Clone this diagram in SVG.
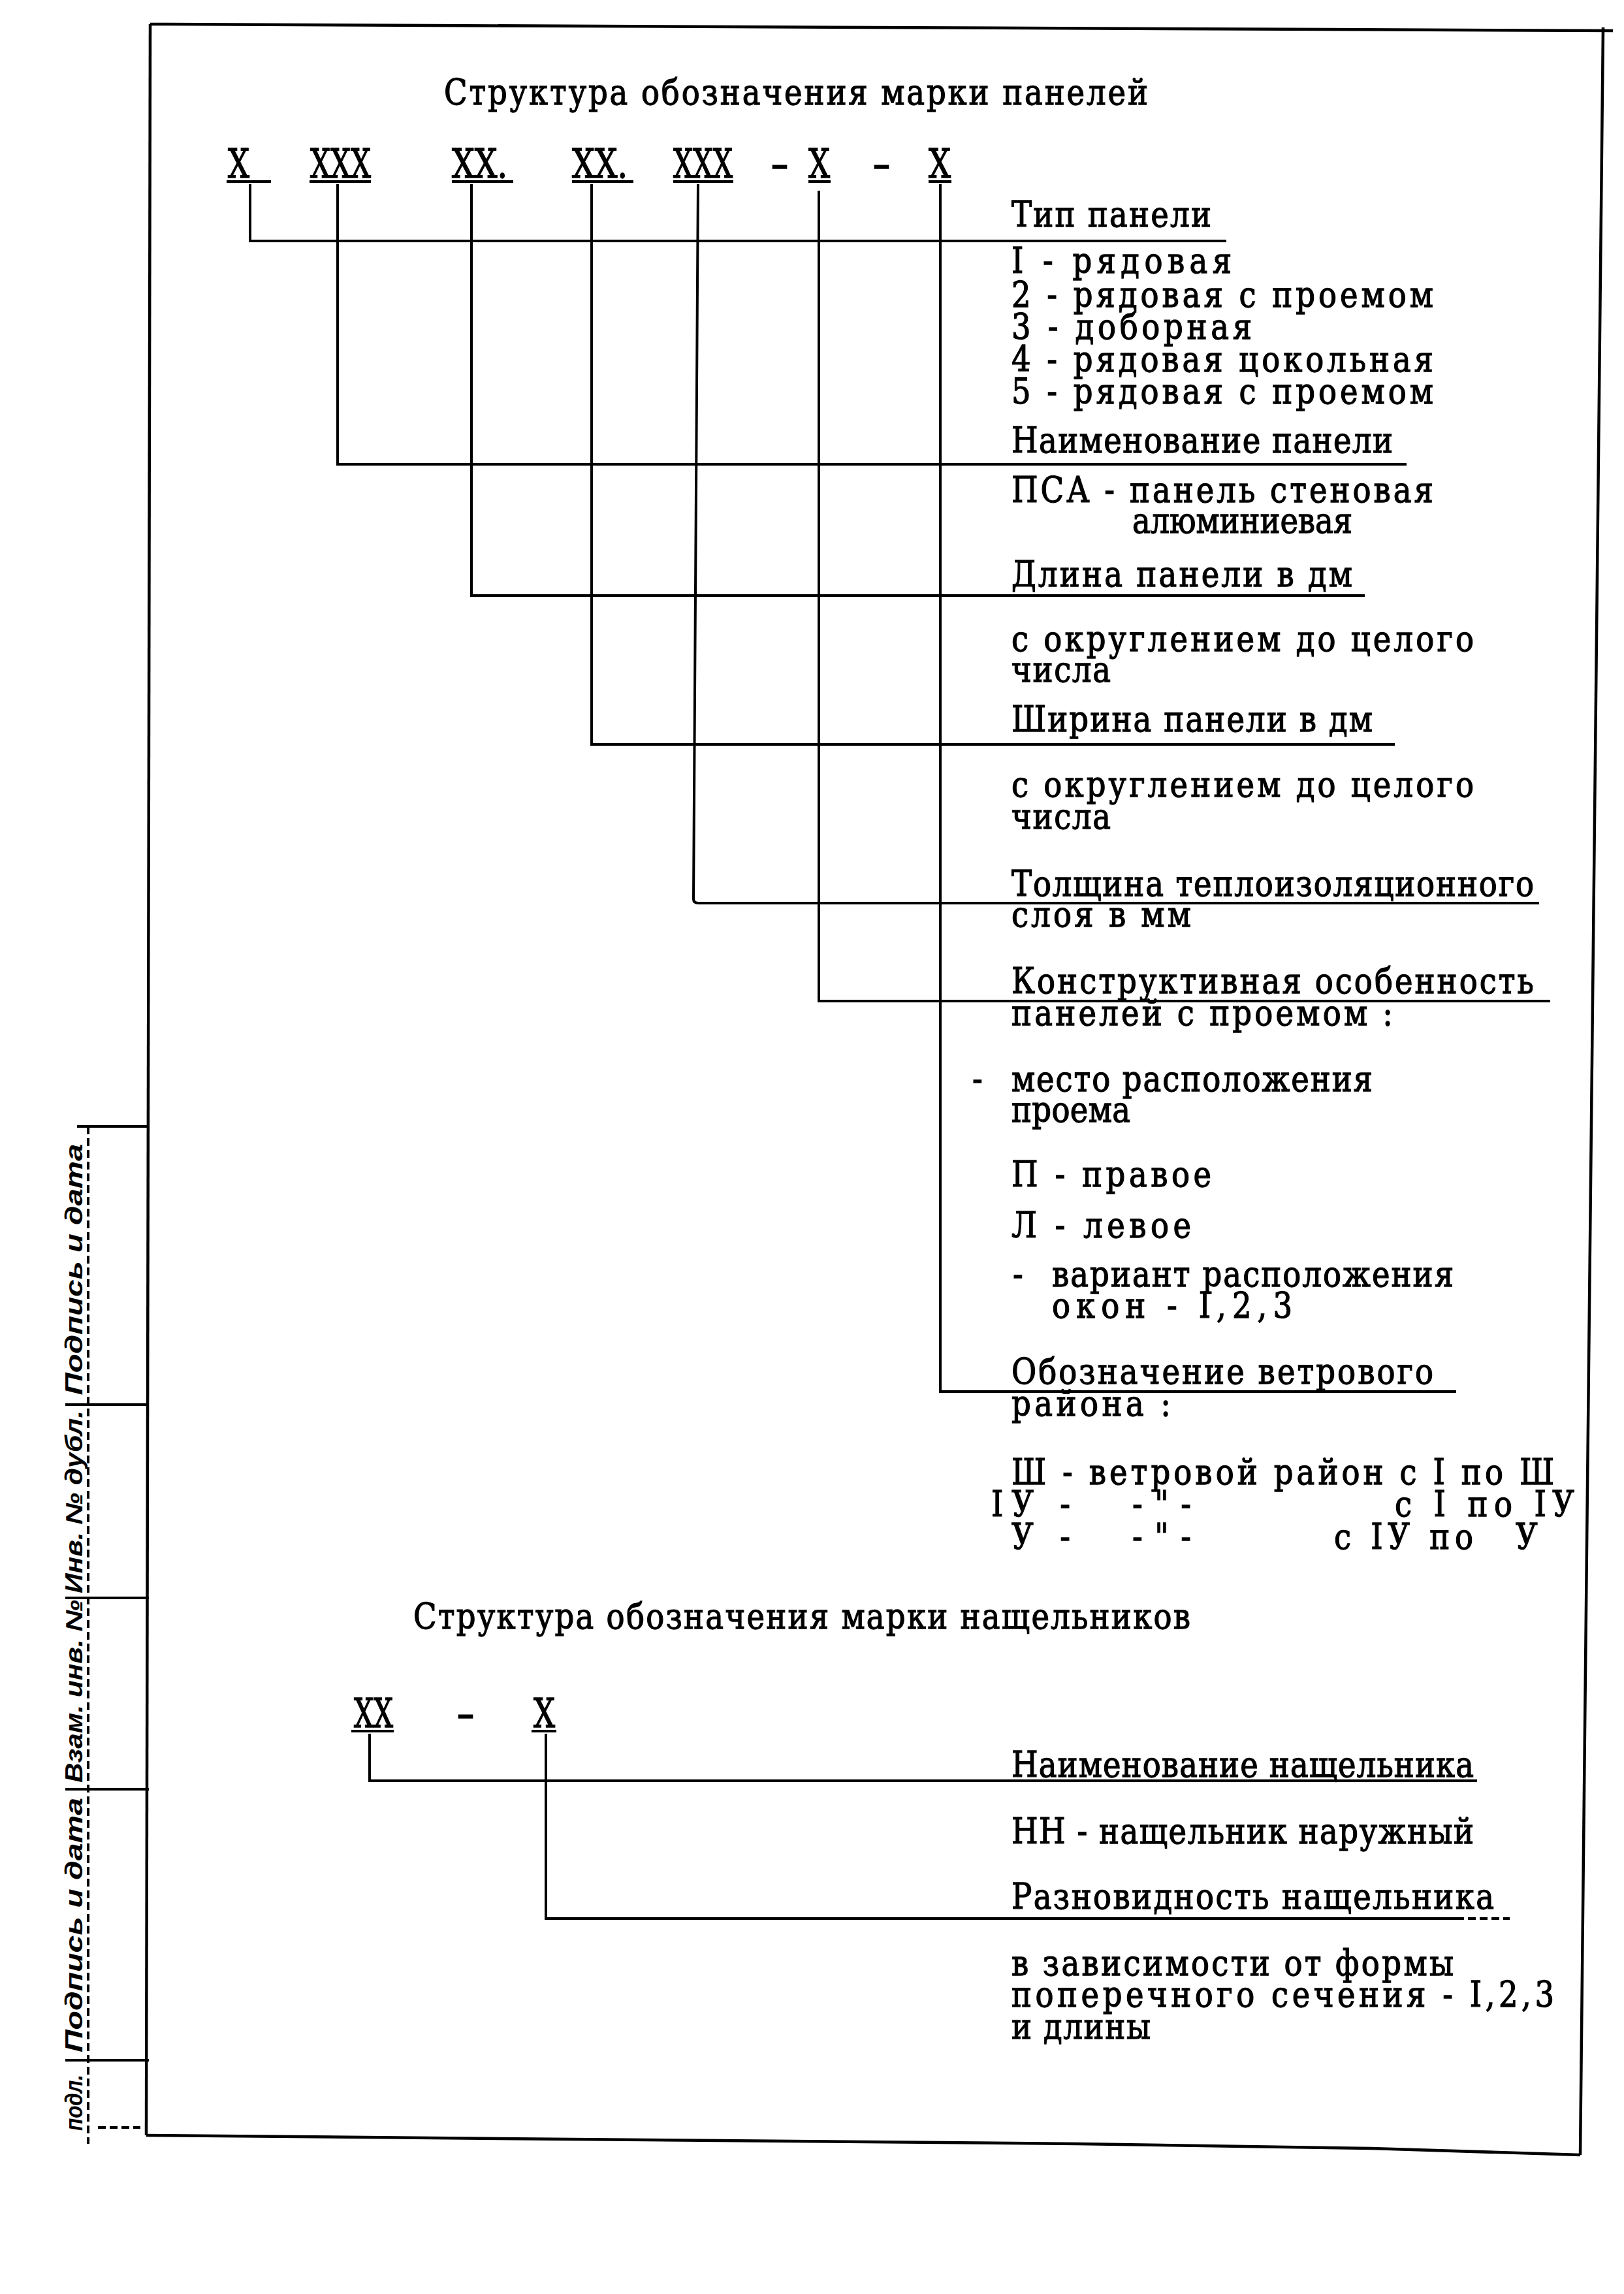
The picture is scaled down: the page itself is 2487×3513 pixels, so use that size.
<svg xmlns="http://www.w3.org/2000/svg" width="2487" height="3513" viewBox="0 0 2487 3513">
<style>
.t{font-family:"DejaVu Serif","Liberation Serif",serif;font-size:53.5px;fill:#000;stroke:#000;stroke-width:1.3}
.c{font-family:"DejaVu Serif","Liberation Serif",serif;font-size:62px;fill:#000;stroke:#000;stroke-width:1.5}
.ln{fill:none;stroke:#000;stroke-width:4}
.ul{fill:none;stroke:#000;stroke-width:4}
.fr{fill:none;stroke:#000;stroke-width:4.5}
.dsh{fill:none;stroke:#000;stroke-width:4;stroke-dasharray:12 6}
.s{font-family:"Liberation Sans","DejaVu Sans",sans-serif;font-style:italic;font-weight:bold;font-size:36px;fill:#000}
</style>
<rect width="2487" height="3513" fill="#fff"/>

<g id="frame">
<path class="fr" d="M230,37 L2470,47"/>
<path class="fr" d="M230,37 L224,3270"/>
<path class="fr" d="M2455,42 L2420,3300"/>
<path class="fr" d="M224,3270 L1650,3283 L2100,3290 L2420,3300"/>
</g>

<g id="stamp">
<path class="dsh" d="M135,1725 L135,3283"/>
<path class="ln" d="M118,1725 H228 M100,2151 H228 M100,2447 H228 M100,2740 H228 M100,3155 H228"/>
<path class="dsh" d="M150,3258 H215"/>
<text class="s" text-anchor="middle" transform="translate(126,1944) rotate(-90)" textLength="385" lengthAdjust="spacingAndGlyphs">Подпись и дата</text>
<text class="s" text-anchor="middle" transform="translate(126,2300) rotate(-90)" textLength="280" lengthAdjust="spacingAndGlyphs">Инв. № дубл.</text>
<text class="s" text-anchor="middle" transform="translate(126,2590) rotate(-90)" textLength="280" lengthAdjust="spacingAndGlyphs">Взам. инв. №</text>
<text class="s" text-anchor="middle" transform="translate(126,2948) rotate(-90)" textLength="390" lengthAdjust="spacingAndGlyphs">Подпись и дата</text>
<text class="s" text-anchor="middle" transform="translate(126,3220) rotate(-90)" textLength="86" lengthAdjust="spacingAndGlyphs">подл.</text>
</g>

<g id="title-panel" transform="translate(680,0) scale(0.87,1)">
<text class="t" x="0" y="160" font-size="52" textLength="1239" lengthAdjust="spacing">Структура обозначения марки панелей</text>
</g>

<g id="code-panel">
<text class="c" x="349" y="272" textLength="33" lengthAdjust="spacingAndGlyphs">X</text>
<text class="c" x="475" y="272" textLength="93" lengthAdjust="spacingAndGlyphs">XXX</text>
<text class="c" x="692" y="272" textLength="85" lengthAdjust="spacingAndGlyphs">XX.</text>
<text class="c" x="876" y="272" textLength="85" lengthAdjust="spacingAndGlyphs">XX.</text>
<text class="c" x="1031" y="272" textLength="91" lengthAdjust="spacingAndGlyphs">XXX</text>
<text class="c" x="1180" y="272" textLength="28" lengthAdjust="spacingAndGlyphs">-</text>
<text class="c" x="1238" y="272" textLength="33" lengthAdjust="spacingAndGlyphs">X</text>
<text class="c" x="1336" y="272" textLength="28" lengthAdjust="spacingAndGlyphs">-</text>
<text class="c" x="1422" y="272" textLength="34" lengthAdjust="spacingAndGlyphs">X</text>
<path class="ul" d="M347,278 H415 M474,278 H568 M692,278 H786 M876,278 H970 M1031,278 H1123 M1238,278 H1272 M1422,278 H1457"/>
</g>

<g id="connectors">
<path class="ln" d="M383,282 V369 H1878"/>
<path class="ln" d="M517,282 V711 H2154"/>
<path class="ln" d="M722,282 V912 H2090"/>
<path class="ln" d="M906,282 V1140 H2136"/>
<path class="ln" d="M1069,282 L1062,1377 Q1062,1383 1070,1383 H2357"/>
<path class="ln" d="M1254,292 V1533 H2374"/>
<path class="ln" d="M1440,282 V2131 H2230"/>
<path class="ln" d="M566,2655 V2727 H2262"/>
<path class="ln" d="M836,2655 V2938 H2230"/>
<path class="dsh" d="M2230,2938 H2312"/>
</g>

<g id="node-type" transform="translate(1549,0) scale(0.87,1)">
<text class="t" x="0" y="347" textLength="351.7" lengthAdjust="spacing">Тип панели</text>
<text class="t" x="0" y="418" textLength="387.4" lengthAdjust="spacing">I - рядовая</text>
<text class="t" x="0" y="470" textLength="742.5" lengthAdjust="spacing">2 - рядовая с проемом</text>
<text class="t" x="0" y="519" textLength="423" lengthAdjust="spacing">3 - доборная</text>
<text class="t" x="0" y="569" textLength="742.5" lengthAdjust="spacing">4 - рядовая цокольная</text>
<text class="t" x="0" y="618" textLength="742.5" lengthAdjust="spacing">5 - рядовая с проемом</text>
</g>

<g id="node-name" transform="translate(1549,0) scale(0.87,1)">
<text class="t" x="0" y="693" textLength="671.3" lengthAdjust="spacing">Наименование панели</text>
<text class="t" x="0" y="769" textLength="742.5" lengthAdjust="spacing">ПСА - панель стеновая</text>
<text class="t" x="212.6" y="816" textLength="387.4" lengthAdjust="spacing">алюминиевая</text>
</g>

<g id="node-length" transform="translate(1549,0) scale(0.87,1)">
<text class="t" x="0" y="898" textLength="600" lengthAdjust="spacing">Длина панели в дм</text>
<text class="t" x="0" y="997" textLength="813.8" lengthAdjust="spacing">с округлением до целого</text>
<text class="t" x="0" y="1044" textLength="174.7" lengthAdjust="spacing">числа</text>
</g>

<g id="node-width" transform="translate(1549,0) scale(0.87,1)">
<text class="t" x="0" y="1120" textLength="635.6" lengthAdjust="spacing">Ширина панели в дм</text>
<text class="t" x="0" y="1220" textLength="813.8" lengthAdjust="spacing">с округлением до целого</text>
<text class="t" x="0" y="1269" textLength="174.7" lengthAdjust="spacing">числа</text>
</g>

<g id="node-thickness" transform="translate(1549,0) scale(0.87,1)">
<text class="t" x="0" y="1372" textLength="919.5" lengthAdjust="spacing">Толщина теплоизоляционного</text>
<text class="t" x="0" y="1419" textLength="316.1" lengthAdjust="spacing">слоя в мм</text>
</g>

<g id="node-construction" transform="translate(1549,0) scale(0.87,1)">
<text class="t" x="0" y="1521" textLength="919.5" lengthAdjust="spacing">Конструктивная особенность</text>
<text class="t" x="0" y="1570" textLength="671.3" lengthAdjust="spacing">панелей с проемом :</text>
<text class="t" x="-69" y="1671">-</text>
<text class="t" x="0" y="1671" textLength="635.6" lengthAdjust="spacing">место расположения</text>
<text class="t" x="0" y="1718" textLength="209.2" lengthAdjust="spacing">проема</text>
<text class="t" x="0" y="1817" textLength="351.7" lengthAdjust="spacing">П - правое</text>
<text class="t" x="0" y="1895" textLength="316.1" lengthAdjust="spacing">Л - левое</text>
<text class="t" x="2.3" y="1970">-</text>
<text class="t" x="71.3" y="1970" textLength="706.9" lengthAdjust="spacing">вариант расположения</text>
<text class="t" x="71.3" y="2018" textLength="423" lengthAdjust="spacing">окон - I,2,3</text>
</g>

<g id="node-wind" transform="translate(1549,0) scale(0.87,1)">
<text class="t" x="0" y="2119" textLength="742.5" lengthAdjust="spacing">Обозначение ветрового</text>
<text class="t" x="0" y="2168" textLength="280.5" lengthAdjust="spacing">района :</text>
<text class="t" x="0" y="2273" textLength="955.2" lengthAdjust="spacing">Ш - ветровой район с I по Ш</text>
<text class="t" x="-35.6" y="2322" textLength="139.1" lengthAdjust="spacing">IУ -</text>
<text class="t" x="212.6" y="2322" textLength="103.4" lengthAdjust="spacing">-"-</text>
<text class="t" x="674.7" y="2322" textLength="316.1" lengthAdjust="spacing">с I по IУ</text>
<text class="t" x="0" y="2372" textLength="103.4" lengthAdjust="spacing">У -</text>
<text class="t" x="212.6" y="2372" textLength="103.4" lengthAdjust="spacing">-"-</text>
<text class="t" x="567.8" y="2372" textLength="244.8" lengthAdjust="spacing">с IУ по</text>
<text class="t" x="887.4" y="2372">У</text>
</g>

<g id="title-nash" transform="translate(633,0) scale(0.87,1)">
<text class="t" x="0" y="2494" font-size="52" textLength="1367.8" lengthAdjust="spacing">Структура обозначения марки нащельников</text>
</g>

<g id="code-nash">
<text class="c" x="542" y="2645" textLength="60" lengthAdjust="spacingAndGlyphs">XX</text>
<text class="c" x="699" y="2645" textLength="28" lengthAdjust="spacingAndGlyphs">-</text>
<text class="c" x="817" y="2645" textLength="33" lengthAdjust="spacingAndGlyphs">X</text>
<path class="ul" d="M538,2651 H603 M814,2651 H852"/>
</g>

<g id="node-nash-name" transform="translate(1549,0) scale(0.87,1)">
<text class="t" x="0" y="2721" textLength="813.8" lengthAdjust="spacing">Наименование нащельника</text>
<text class="t" x="0" y="2823" textLength="813.8" lengthAdjust="spacing">НН - нащельник наружный</text>
</g>

<g id="node-nash-variant" transform="translate(1549,0) scale(0.87,1)">
<text class="t" x="0" y="2923" textLength="849.4" lengthAdjust="spacing">Разновидность нащельника</text>
<text class="t" x="0" y="3025" textLength="778.2" lengthAdjust="spacing">в зависимости от формы</text>
<text class="t" x="0" y="3073" textLength="955.2" lengthAdjust="spacing">поперечного сечения - I,2,3</text>
<text class="t" x="0" y="3122" textLength="244.8" lengthAdjust="spacing">и длины</text>
</g>
</svg>
